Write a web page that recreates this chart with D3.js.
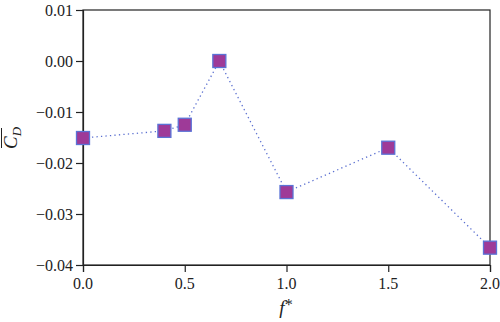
<!DOCTYPE html>
<html><head><meta charset="utf-8">
<script src="https://cdn.jsdelivr.net/npm/d3@7"></script>
<style>body{margin:0;background:#fff}svg{display:block}</style>
</head><body>
<svg id="c" width="500" height="322"></svg>
<script>
const fStar = [0.0, 0.4, 0.5, 0.67, 1.0, 1.5, 2.0];
const cdMean = [-0.0151, -0.0137, -0.0125, 0.0, -0.0257, -0.0170, -0.0366];
const xTicks = [0.0, 0.5, 1.0, 1.5, 2.0];
const yTicks = [0.01, 0.00, -0.01, -0.02, -0.03, -0.04];

const FONT = '"Liberation Serif"';
const svg = d3.select("#c");
const L = 83, R = 490, T = 10, B = 265;
const x = d3.scaleLinear().domain([0, 2]).range([L, R]);
const y = d3.scaleLinear().domain([-0.04, 0.01]).range([B, T]);

svg.append("rect").attr("x", L).attr("y", T).attr("width", R - L).attr("height", B - T)
  .attr("fill", "none").attr("stroke", "#222").attr("stroke-width", 1.2);

const fmtY = v => (v < 0 ? "\u2212" : "") + Math.abs(v).toFixed(2);
const fmtX = d3.format(".1f");
const yAxis = svg.append("g").attr("transform", `translate(${L},0)`)
  .call(d3.axisLeft(y).tickValues(yTicks).tickSize(7).tickFormat(""));
const xAxis = svg.append("g").attr("transform", `translate(0,${B})`)
  .call(d3.axisBottom(x).tickValues(xTicks).tickSize(7).tickFormat(""));
[yAxis, xAxis].forEach(g => {
  g.select(".domain").attr("stroke", "#222").attr("stroke-width", 1.2);
  g.selectAll(".tick line").attr("stroke", "#222").attr("stroke-width", 1.2);
  g.selectAll(".tick text").remove();
});

// tick labels drawn from the same scales
svg.append("g").selectAll("text").data(yTicks).enter().append("text")
  .attr("x", L - 10).attr("y", d => y(d)).attr("dy", "0.35em")
  .attr("text-anchor", "end").attr("fill", "#222")
  .style("font-family", FONT, "important").style("font-size", "16px", "important")
  .text(fmtY);
svg.append("g").selectAll("text").data(xTicks).enter().append("text")
  .attr("x", d => x(d)).attr("y", B + 13).attr("dy", "0.71em")
  .attr("text-anchor", "middle").attr("fill", "#222")
  .style("font-family", FONT, "important").style("font-size", "16px", "important")
  .text(fmtX);

const data = fStar.map((f, i) => ({f, v: cdMean[i]}));
svg.append("path").datum(data)
  .attr("d", d3.line().x(d => x(d.f)).y(d => y(d.v)))
  .attr("fill", "none").attr("stroke", "#5a6fd0").attr("stroke-width", 1.3)
  .attr("stroke-dasharray", "1.3,3.2");

const s = 13;
svg.selectAll("rect.pt").data(data).enter().append("rect").attr("class", "pt")
  .attr("x", d => x(d.f) - s / 2).attr("y", d => y(d.v) - s / 2)
  .attr("width", s).attr("height", s)
  .attr("fill", "#9e3a98").attr("stroke", "#5b73d6").attr("stroke-width", 1.3);

const yl = svg.append("text").attr("transform", "translate(17,138) rotate(-90)")
  .attr("text-anchor", "middle").style("font-family", FONT).style("font-size", "19px")
  .attr("fill", "#222").attr("font-style", "italic");
yl.append("tspan").text("C");
yl.append("tspan").style("font-size", "13px").attr("dy", 4).text("D");
svg.append("line").attr("x1", 1.5).attr("x2", 1.5).attr("y1", 128).attr("y2", 148)
  .attr("stroke", "#222").attr("stroke-width", 1);

const xl = svg.append("text").attr("x", 286).attr("y", 314).attr("text-anchor", "middle")
  .style("font-family", FONT).style("font-size", "19px").attr("fill", "#222");
xl.append("tspan").attr("font-style", "italic").text("f");
xl.append("tspan").style("font-size", "16px").attr("dy", -4).text("*");
</script>
</body></html>
